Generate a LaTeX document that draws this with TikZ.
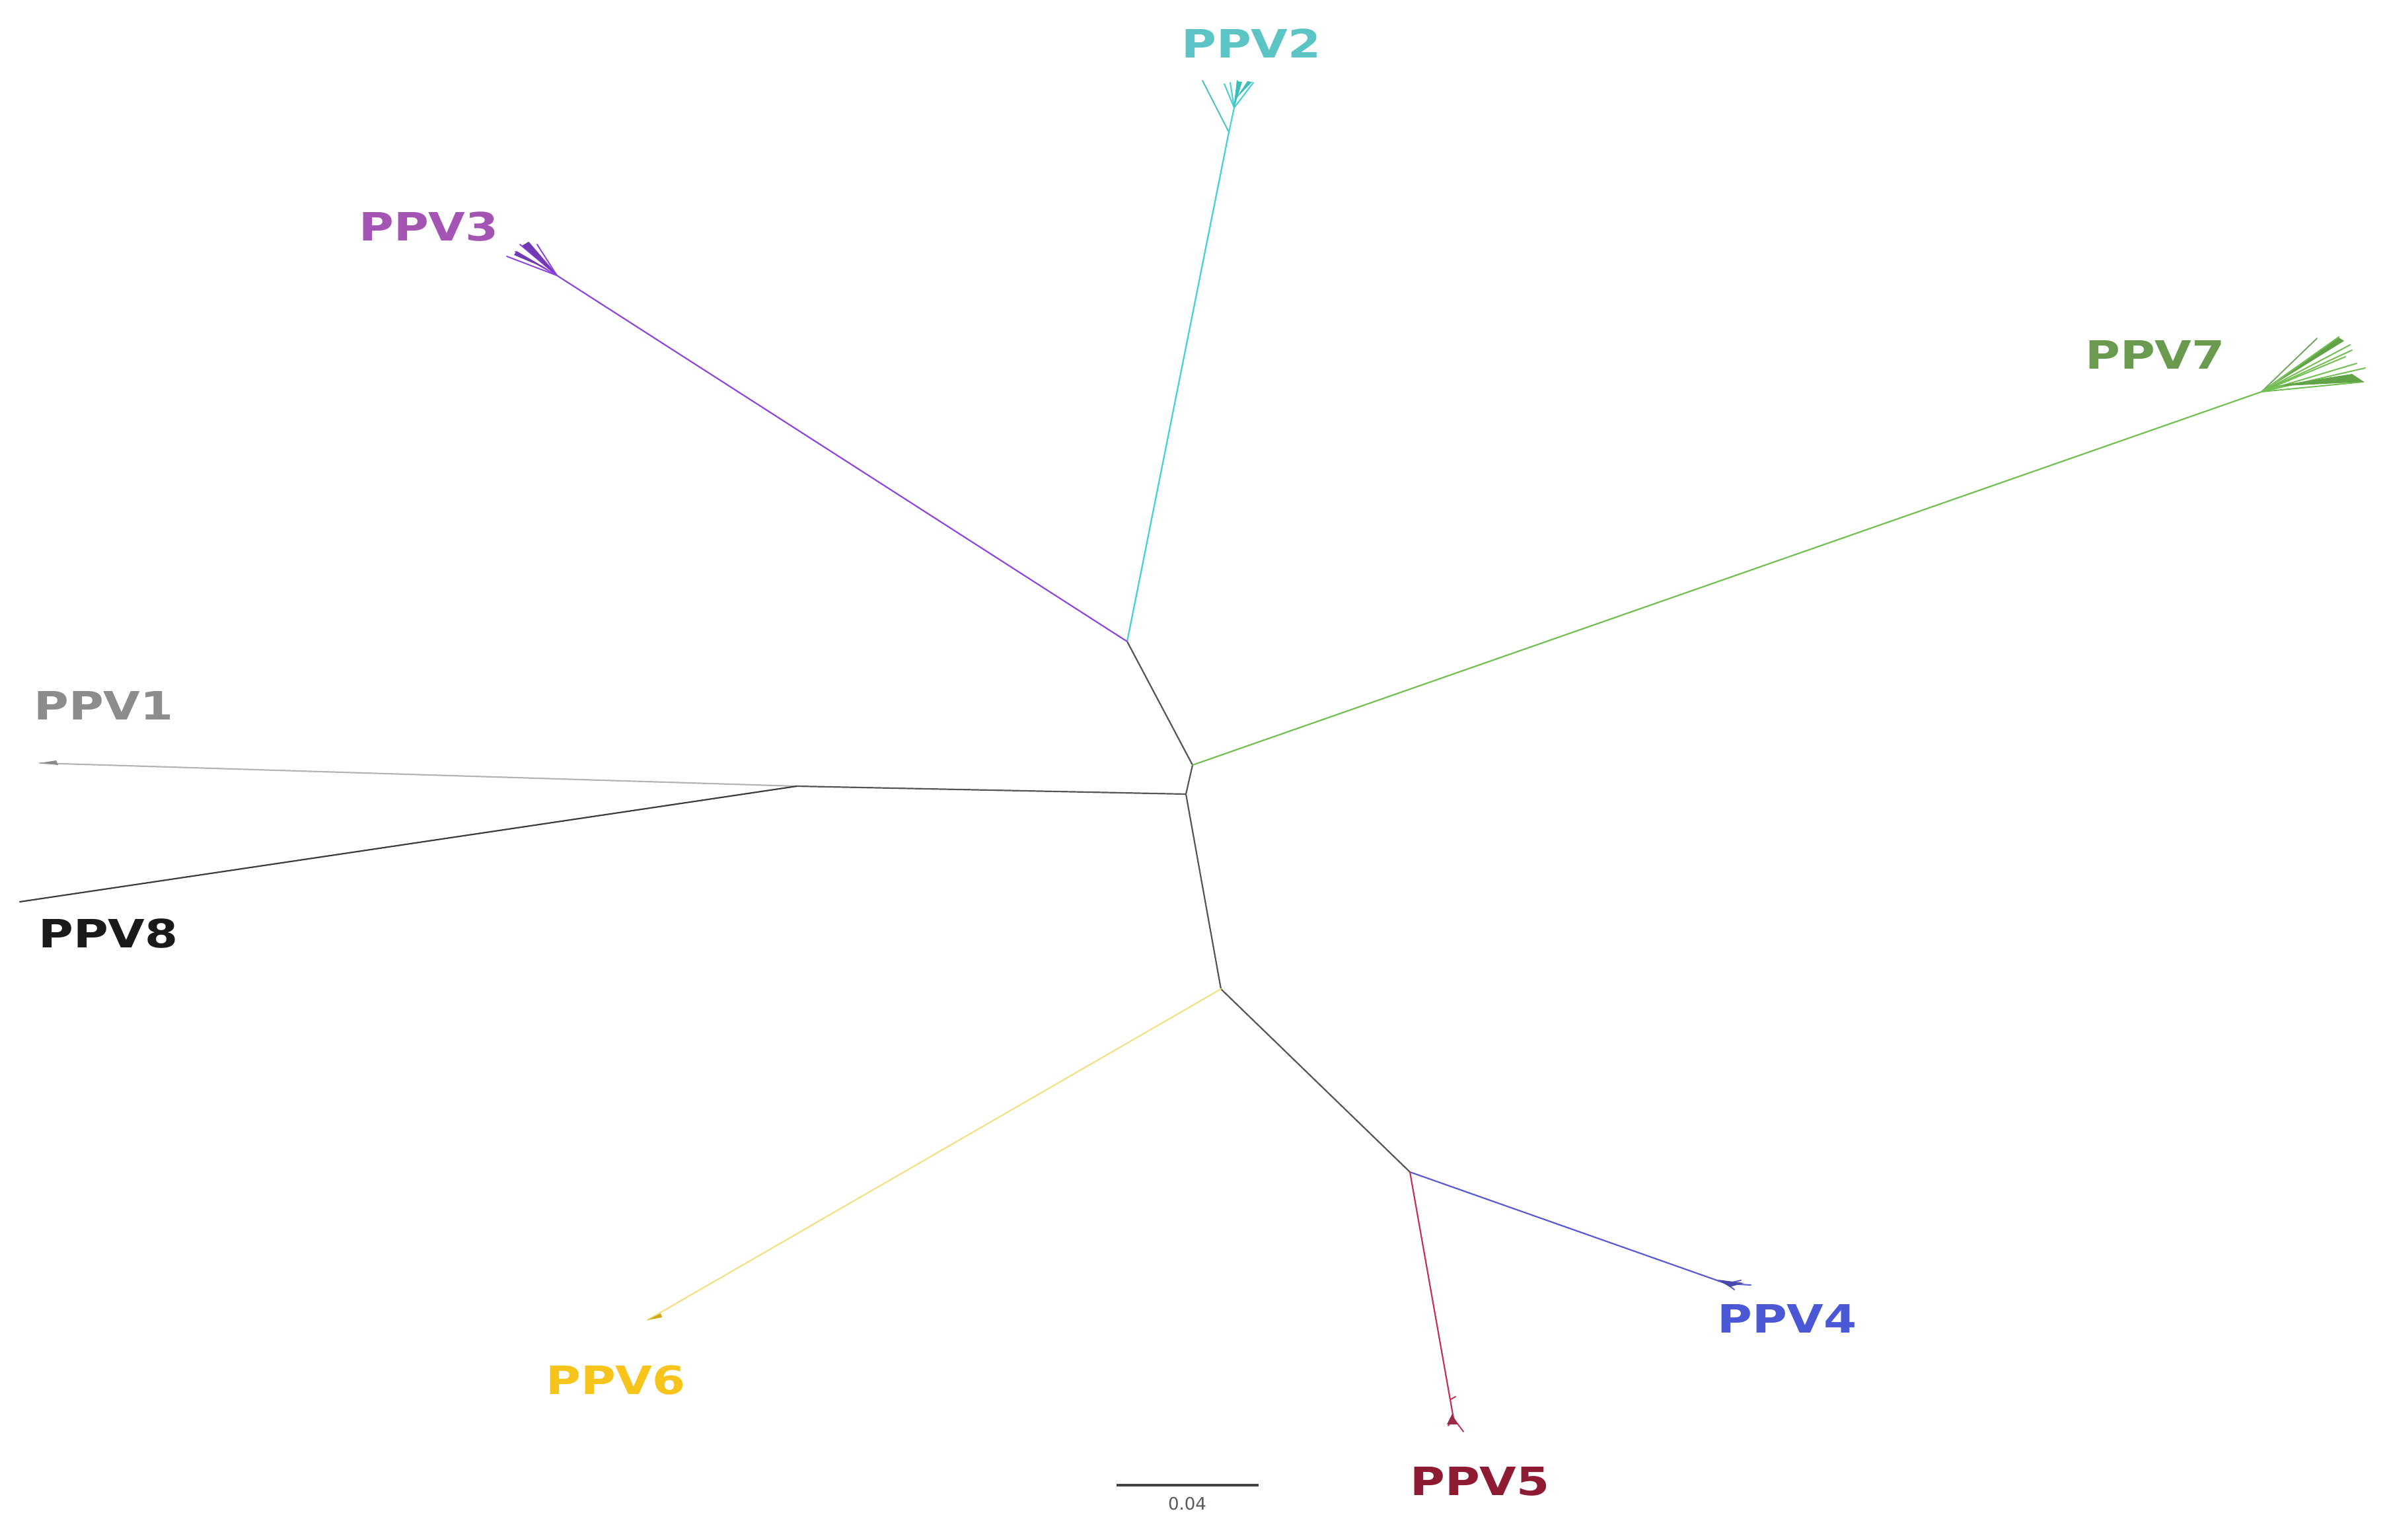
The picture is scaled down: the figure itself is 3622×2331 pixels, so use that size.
\documentclass[tikz,border=0pt]{standalone}
\usepackage{fontspec}
\setmainfont{DejaVu Sans}
\usepackage{graphicx}
\definecolor{cInt}{HTML}{555555}
\definecolor{cTwo}{HTML}{5CC4C4}
\definecolor{cTwoL}{HTML}{3FD2D2}
\definecolor{cThree}{HTML}{A455B4}
\definecolor{cThreeL}{HTML}{8E48E0}
\definecolor{cSeven}{HTML}{6A9A4E}
\definecolor{cSevenL}{HTML}{72C052}
\definecolor{cOne}{HTML}{8C8C8C}
\definecolor{cOneL}{HTML}{B4B4B4}
\definecolor{cEight}{HTML}{1A1A1A}
\definecolor{cEightL}{HTML}{3C3C3C}
\definecolor{cFour}{HTML}{4A58D6}
\definecolor{cFourL}{HTML}{5A5AD6}
\definecolor{cFive}{HTML}{8E1B32}
\definecolor{cFiveL}{HTML}{C23456}
\definecolor{cSix}{HTML}{F6C41A}
\definecolor{cSixL}{HTML}{F2E286}
\tikzset{
  br/.style={line width=0.55pt, line cap=round},
  fan/.style={line width=0.5pt, line cap=round},
  lab/.style={inner sep=0pt, font=\bfseries\fontsize{14.75}{15}\selectfont}
}
\newcommand{\wl}[1]{\scalebox{1.22}[1]{#1}}
\begin{document}
\begin{tikzpicture}[x=0.25pt,y=-0.25pt]
\useasboundingbox (0,0) rectangle (3622,2331);
% internal nodes
\coordinate (A) at (1706,971);
\coordinate (B) at (1805,1158);
\coordinate (C) at (1795,1202);
\coordinate (D) at (1206,1190);
\coordinate (E) at (1848,1497);
\coordinate (F) at (2134,1774);
% tip bases
\coordinate (t2) at (1860,200);
\coordinate (t2s) at (1868,163);
\coordinate (t3) at (843,417);
\coordinate (t7) at (3423,593);
\coordinate (t1) at (60,1155);
\coordinate (t8) at (30,1365);
\coordinate (t4) at (2613,1943);
\coordinate (t5) at (2200,2147);
\coordinate (t6) at (980,1998);
% internal branches
\draw[br,cInt] (A) -- (B) -- (C) -- (E) -- (F);
\draw[br,cInt] (C) -- (D);
% PPV2
\draw[br,cTwoL] (A) -- (t2);
\draw[fan,cTwoL!80!gray] (t2) -- (1820,122);
\draw[fan,cTwoL] (t2) -- (t2s);
\draw[fan,cTwoL] (t2s) -- (1853,127);
\draw[fan,cTwoL] (t2s) -- (1862,125);
\draw[fan,cTwoL] (t2s) -- (1873,122);
\draw[fan,cTwoL] (t2s) -- (1897,125);
\fill[cTwoL!90!black] (t2s) -- (1872,123) -- (1880,124) -- cycle;
\fill[cTwoL!90!black] (1870,150) -- (1895,124) -- (1888,123) -- cycle;
% PPV3
\draw[br,cThreeL] (A) -- (t3);
\foreach \p in {(767,388),(780,381),(787,370),(800,367),(813,370)}
  \draw[fan,cThreeL] (t3) -- \p;
\fill[cThreeL!80!black] (t3) -- (790,372) -- (800,366) -- cycle;
\fill[cThreeL!80!black] (830,408) -- (778,386) -- (782,380) -- cycle;
% PPV7
\draw[br,cSevenL] (B) -- (t7);
\draw[fan,cSevenL!60!gray] (t7) -- (3507,512);
\foreach \p in {(3540,510),(3557,522),(3560,530),(3567,550),(3580,557),(3577,578),(3550,540)}
  \draw[fan,cSevenL] (t7) -- \p;
\fill[cSevenL!85!black] (3440,585) -- (3578,578) -- (3560,566) -- cycle;
\fill[cSevenL!85!black] (3435,586) -- (3540,511) -- (3548,516) -- cycle;
% PPV1
\draw[br,cOneL] (D) -- (t1);
\fill[cOne] (t1) -- (85,1151) -- (88,1158) -- cycle;
% PPV8
\draw[br,cEightL] (D) -- (t8);
% PPV6
\draw[br,cSixL] (E) -- (t6);
\fill[cSix!85!black] (t6) -- (1000,1988) -- (1002,1994) -- cycle;
% PPV4
\draw[br,cFourL] (F) -- (t4);
\draw[fan,cFourL] (t4) -- (2650,1945);
\draw[fan,cFourL] (t4) -- (2635,1938);
\draw[fan,cFourL] (t4) -- (2625,1952);
\fill[cFourL!80!black] (2600,1937) -- (2640,1942) -- (2618,1948) -- cycle;
% PPV5
\draw[br,cFiveL] (F) -- (t5);
\draw[fan,cFiveL] (t5) -- (2215,2167);
\draw[fan,cFiveL] (t5) -- (2192,2158);
\draw[fan,cFiveL] (2196,2118) -- (2203,2114);
\fill[cFiveL!80!black] (2198,2140) -- (2190,2156) -- (2206,2156) -- cycle;
% labels
\node[lab,text=cTwo]   (l2) at (1894,66)   {\wl{PPV2}};
\node[lab,text=cThree] (l3) at (649,343)   {\wl{PPV3}};
\node[lab,text=cSeven] (l7) at (3262,537)  {\wl{PPV7}};
\node[lab,text=cOne]   (l1) at (157,1068)  {\wl{PPV1}};
\node[lab,text=cEight] (l8) at (164,1413)  {\wl{PPV8}};
\node[lab,text=cFour]  (l4) at (2705,1996) {\wl{PPV4}};
\node[lab,text=cFive]  (l5) at (2240,2242) {\wl{PPV5}};
\node[lab,text=cSix]   (l6) at (932,2089)  {\wl{PPV6}};
% scale bar
\coordinate (s1) at (1690,2248);
\coordinate (s2) at (1905,2248);
\draw[line width=1pt,black!75] (s1) -- (s2);
\node[inner sep=0pt,text=black!65,font=\fontsize{6.5}{7}\selectfont] (sl) at (1797,2276) {0.04};
\end{tikzpicture}
\end{document}
